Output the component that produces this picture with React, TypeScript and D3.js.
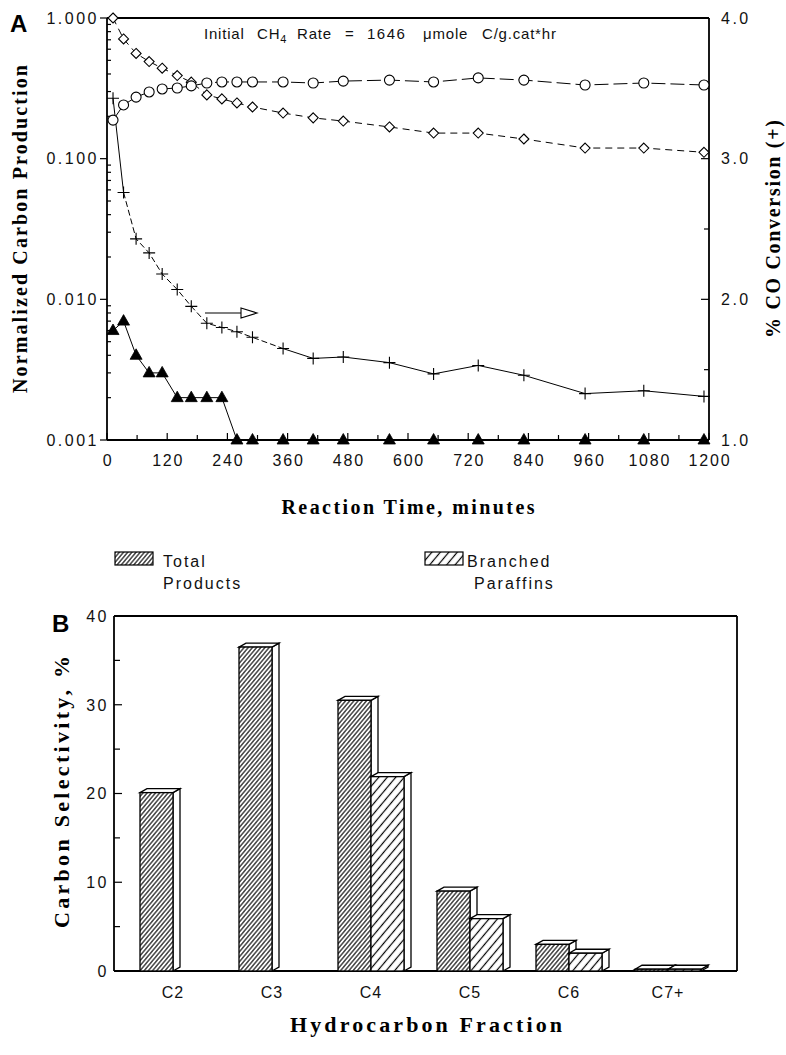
import React from "react";
import * as d3 from "d3";

// ---------- Panel A data ----------
const times = [12, 33, 58, 84, 110, 140, 168, 199, 229, 259, 290, 351, 411, 471, 563, 651, 740, 831, 953, 1070, 1190];
const diamondSeries = [1.0, 0.71, 0.56, 0.49, 0.44, 0.39, 0.35, 0.284, 0.266, 0.249, 0.233, 0.211, 0.195, 0.185, 0.168, 0.152, 0.152, 0.138, 0.119, 0.119, 0.111];
const circleSeries = [0.188, 0.241, 0.274, 0.298, 0.313, 0.318, 0.329, 0.345, 0.351, 0.351, 0.351, 0.351, 0.345, 0.356, 0.362, 0.351, 0.375, 0.362, 0.334, 0.345, 0.334];
const coConversion = [3.43, 2.76, 2.43, 2.33, 2.18, 2.07, 1.95, 1.83, 1.8, 1.77, 1.73, 1.65, 1.58, 1.59, 1.55, 1.47, 1.53, 1.46, 1.33, 1.35, 1.31];
const triangleSeries = [0.006, 0.007, 0.004, 0.003, 0.003, 0.002, 0.002, 0.002, 0.002, 0.001, 0.001, 0.001, 0.001, 0.001, 0.001, 0.001, 0.001, 0.001, 0.001, 0.001, 0.001];
const xTicks = [0, 120, 240, 360, 480, 600, 720, 840, 960, 1080, 1200];
const xMinorTicks = [60, 180, 300, 420, 540, 660, 780, 900, 1020, 1140];
const leftTicks = [0.001, 0.01, 0.1, 1];
const leftTickLabels = ["0.001", "0.010", "0.100", "1.000"];
const rightTicks = [1, 2, 3, 4];
const rightTickLabels = ["1.0", "2.0", "3.0", "4.0"];
const rightMinorTicks = [1.5, 2.5, 3.5];

// ---------- Panel B data ----------
const categories = ["C2", "C3", "C4", "C5", "C6", "C7+"];
const totalProducts = [20.1, 36.5, 30.5, 9.0, 3.0, 0.2];
const branchedParaffins = [0, 0, 21.9, 5.9, 2.0, 0.2];
const barTicks = [0, 10, 20, 30, 40];
const barMinorTicks = [5, 15, 25, 35];

const sans = "'Liberation Sans', Arial, Helvetica, sans-serif";
const serif = "'Liberation Serif', 'Times New Roman', serif";

function Bar3D({ x0, w, yTop, yBase, fill }) {
  const dx = 7;
  const dy = -4;
  const sw = 1.3;
  return (
    <g stroke="#000" strokeWidth={sw} strokeLinejoin="miter">
      <polygon
        points={`${x0 + w},${yTop} ${x0 + w + dx},${yTop + dy} ${x0 + w + dx},${yBase + dy} ${x0 + w},${yBase}`}
        fill="#fff"
      />
      <polygon
        points={`${x0},${yTop} ${x0 + dx},${yTop + dy} ${x0 + w + dx},${yTop + dy} ${x0 + w},${yTop}`}
        fill="#fff"
      />
      <rect x={x0} y={yTop} width={w} height={Math.max(0, yBase - yTop)} fill={fill} />
    </g>
  );
}

export default function App() {
  // Panel A scales
  const x = d3.scaleLinear().domain([0, 1200]).range([107, 709]);
  const yL = d3.scaleLog().domain([0.001, 1]).range([440, 18]);
  const yR = d3.scaleLinear().domain([1, 4]).range([440, 18]);

  const line = d3.line();
  const ptsL = (vals) => times.map((t, i) => [x(t), yL(vals[i])]);
  const ptsR = (vals) => times.map((t, i) => [x(t), yR(vals[i])]);

  const diamondPts = ptsL(diamondSeries);
  const circlePts = ptsL(circleSeries);
  const plusPts = ptsR(coConversion);
  const triPts = ptsL(triangleSeries);

  const leftMinor = [];
  [0.001, 0.01, 0.1].forEach((d) => {
    for (let m = 2; m <= 9; m++) leftMinor.push(d * m);
  });

  // Panel B scales
  const xb = d3.scalePoint().domain(categories).range([173, 668]);
  const yb = d3.scaleLinear().domain([0, 40]).range([971, 616]);
  const barW = 33;

  return (
    <svg
      width={786}
      height={1055}
      style={{ position: "absolute", left: 0, top: 0, background: "#fff" }}
      fontFamily={sans}
    >
      <defs>
        <pattern id="hatchDense" patternUnits="userSpaceOnUse" width={3.2} height={3.2} patternTransform="rotate(40)">
          <rect width={3.2} height={3.2} fill="#fff" />
          <line x1={1.6} y1={0} x2={1.6} y2={3.2} stroke="#000" strokeWidth={1.1} />
        </pattern>
        <pattern id="hatchSparse" patternUnits="userSpaceOnUse" width={6.5} height={6.5} patternTransform="rotate(40)">
          <rect width={6.5} height={6.5} fill="#fff" />
          <line x1={3.25} y1={0} x2={3.25} y2={6.5} stroke="#000" strokeWidth={1.2} />
        </pattern>
      </defs>

      {/* ================= Panel A ================= */}
      <text x={10} y={32} fontSize={24} fontWeight="bold" fontFamily={sans}>A</text>

      {/* frame */}
      <g stroke="#000" strokeWidth={1.8} fill="none">
        <line x1={107} y1={18} x2={709} y2={18} />
        <line x1={107} y1={18} x2={107} y2={440} />
        <line x1={709} y1={18} x2={709} y2={440} />
        <line x1={107} y1={440} x2={709} y2={440} />
      </g>

      {/* axis ticks */}
      <g stroke="#000" strokeWidth={1.2}>
        {leftTicks.map((v) => (
          <line key={"lt" + v} x1={100} x2={107} y1={yL(v)} y2={yL(v)} />
        ))}
        {leftMinor.map((v) => (
          <line key={"lm" + v} x1={107} x2={111} y1={yL(v)} y2={yL(v)} />
        ))}
        {rightTicks.map((v) => (
          <line key={"rt" + v} x1={701} x2={709} y1={yR(v)} y2={yR(v)} />
        ))}
        {rightMinorTicks.map((v) => (
          <line key={"rm" + v} x1={704} x2={709} y1={yR(v)} y2={yR(v)} />
        ))}
        {xTicks.map((v) => (
          <line key={"xt" + v} x1={x(v)} x2={x(v)} y1={440} y2={433} />
        ))}
        {xMinorTicks.map((v) => (
          <line key={"xm" + v} x1={x(v)} x2={x(v)} y1={440} y2={435} />
        ))}
      </g>

      {/* tick labels */}
      <g fontSize={16} fill="#111" letterSpacing={2.5}>
        {leftTicks.map((v, i) => (
          <text key={"ll" + v} x={99} y={yL(v)} dy="0.36em" textAnchor="end">{leftTickLabels[i]}</text>
        ))}
        {rightTicks.map((v, i) => (
          <text key={"rl" + v} x={721} y={yR(v)} dy="0.36em" textAnchor="start">{rightTickLabels[i]}</text>
        ))}
      </g>
      <g fontSize={16} fill="#111" letterSpacing={1.8}>
        {xTicks.map((v) => (
          <text key={"xl" + v} x={x(v) + 1} y={466} textAnchor="middle">{v}</text>
        ))}
      </g>

      {/* axis titles */}
      <text
        transform="translate(27,229) rotate(-90)"
        textAnchor="middle"
        fontFamily={serif}
        fontWeight="bold"
        fontSize={20}
        textLength={328}
        lengthAdjust="spacing"
      >
        Normalized Carbon Production
      </text>
      <text
        transform="translate(780,229) rotate(-90)"
        textAnchor="middle"
        fontFamily={serif}
        fontWeight="bold"
        fontSize={20}
        textLength={218}
        lengthAdjust="spacing"
      >
        % CO Conversion (+)
      </text>
      <text
        x={408}
        y={514}
        textAnchor="middle"
        fontFamily={serif}
        fontWeight="bold"
        fontSize={20}
        textLength={253}
        lengthAdjust="spacing"
      >
        Reaction Time, minutes
      </text>

      {/* annotation */}
      <g fontSize={15} fill="#111" letterSpacing={0.8}>
        <text x={204} y={39}>Initial</text>
        <text x={257} y={39}>CH<tspan fontSize={11} dy={4}>4</tspan></text>
        <text x={297} y={39}>Rate</text>
        <text x={345} y={39}>=</text>
        <text x={367} y={39} letterSpacing={1.5}>1646</text>
        <text x={423} y={39}>μmole</text>
        <text x={482} y={39}>C/g.cat*hr</text>
      </g>

      {/* series lines */}
      <path d={line(circlePts)} fill="none" stroke="#000" strokeWidth={1} strokeDasharray="14,5" />
      <path d={line(diamondPts)} fill="none" stroke="#000" strokeWidth={1} strokeDasharray="7,5" />
      <path d={line(plusPts.slice(0, 2))} fill="none" stroke="#000" strokeWidth={1} />
      <path d={line(plusPts.slice(1, 12))} fill="none" stroke="#000" strokeWidth={1} strokeDasharray="6,3" />
      <path d={line(plusPts.slice(11))} fill="none" stroke="#000" strokeWidth={1} />
      <path d={line(triPts)} fill="none" stroke="#000" strokeWidth={1} />

      {/* markers */}
      <g fill="#fff" stroke="#000" strokeWidth={1.1}>
        {diamondPts.map(([px, py], i) => (
          <path key={"d" + i} transform={`translate(${px},${py})`} d="M0,-5 L5,0 L0,5 L-5,0 Z" />
        ))}
        {circlePts.map(([px, py], i) => (
          <circle key={"c" + i} cx={px} cy={py} r={5} />
        ))}
      </g>
      <g fill="none" stroke="#000" strokeWidth={1.1}>
        {plusPts.map(([px, py], i) => (
          <path key={"p" + i} transform={`translate(${px},${py})`} d="M-6,0 H6 M0,-6 V6" />
        ))}
      </g>
      <g fill="#000" stroke="#000" strokeWidth={0.8}>
        {triPts.map(([px, py], i) => (
          <path key={"t" + i} transform={`translate(${px},${py})`} d="M0,-6.5 L6,4 L-6,4 Z" />
        ))}
      </g>

      {/* arrow */}
      <g stroke="#000" strokeWidth={1.1} fill="#fff">
        <line x1={205} y1={313} x2={241} y2={313} />
        <path d="M241,308 L257,313 L241,318 Z" />
      </g>

      {/* ================= Legend ================= */}
      <rect x={115} y={552} width={38} height={13} fill="url(#hatchDense)" stroke="#000" strokeWidth={1.2} />
      <g fontSize={16} fill="#111" letterSpacing={2}>
        <text x={163} y={567}>Total</text>
        <text x={163} y={589}>Products</text>
      </g>
      <rect x={425} y={552} width={38} height={13} fill="url(#hatchSparse)" stroke="#000" strokeWidth={1.2} />
      <g fontSize={16} fill="#111" letterSpacing={2}>
        <text x={467} y={567}>Branched</text>
        <text x={474} y={589}>Paraffins</text>
      </g>

      {/* ================= Panel B ================= */}
      <text x={52} y={632} fontSize={24} fontWeight="bold" fontFamily={sans}>B</text>

      <g stroke="#000" strokeWidth={1.8} fill="none">
        <line x1={114} y1={616} x2={737} y2={616} />
        <line x1={114} y1={616} x2={114} y2={971} />
        <line x1={737} y1={616} x2={737} y2={971} />
        <line x1={114} y1={971} x2={737} y2={971} />
      </g>
      <g stroke="#000" strokeWidth={1.2}>
        {barTicks.map((v) => (
          <line key={"bt" + v} x1={114} x2={122} y1={yb(v)} y2={yb(v)} />
        ))}
        {barMinorTicks.map((v) => (
          <line key={"bm" + v} x1={114} x2={120} y1={yb(v)} y2={yb(v)} />
        ))}
      </g>
      <g fontSize={16} fill="#111" letterSpacing={2.5}>
        {barTicks.map((v) => (
          <text key={"bl" + v} x={109} y={yb(v)} dy="0.36em" textAnchor="end">{v}</text>
        ))}
      </g>

      {/* bars */}
      {categories.map((c, i) => {
        const cx = xb(c);
        return (
          <g key={"bar" + c}>
            {totalProducts[i] > 0 && (
              <Bar3D x0={cx - barW} w={barW} yTop={yb(totalProducts[i])} yBase={yb(0)} fill="url(#hatchDense)" />
            )}
            {branchedParaffins[i] > 0 && (
              <Bar3D x0={cx} w={barW} yTop={yb(branchedParaffins[i])} yBase={yb(0)} fill="url(#hatchSparse)" />
            )}
          </g>
        );
      })}

      <g fontSize={16} fill="#111" letterSpacing={1}>
        {categories.map((c) => (
          <text key={"cl" + c} x={xb(c)} y={998} textAnchor="middle">{c}</text>
        ))}
      </g>

      <text
        transform="translate(69,792) rotate(-90)"
        textAnchor="middle"
        fontFamily={serif}
        fontWeight="bold"
        fontSize={22}
        textLength={272}
        lengthAdjust="spacing"
      >
        Carbon Selectivity, %
      </text>
      <text
        x={426}
        y={1032}
        textAnchor="middle"
        fontFamily={serif}
        fontWeight="bold"
        fontSize={22}
        textLength={272}
        lengthAdjust="spacing"
      >
        Hydrocarbon Fraction
      </text>
    </svg>
  );
}
